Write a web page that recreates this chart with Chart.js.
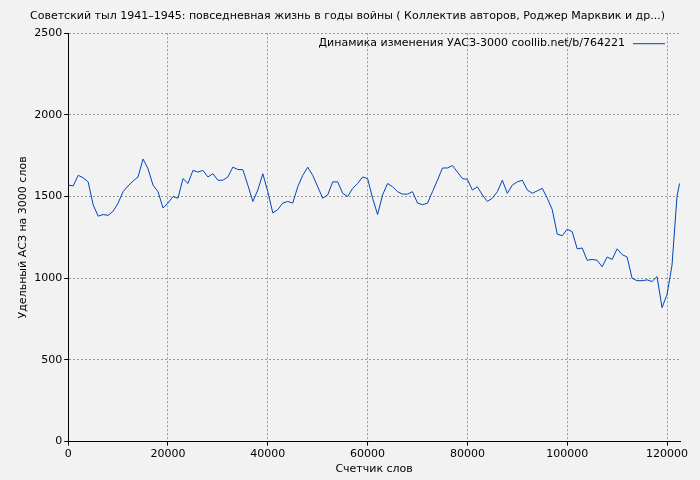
<!DOCTYPE html>
<html>
<head>
<meta charset="utf-8">
<script src="https://cdn.jsdelivr.net/npm/chart.js@4"></script>
<style>
  body { margin: 0; background: #f2f2f2; }
  #wrap { width: 700px; height: 480px; }
</style>
</head>
<body>
<div id="wrap"><canvas id="chart"></canvas></div>
<script>
const titleText = 'Советский тыл 1941–1945: повседневная жизнь в годы войны ( Коллектив авторов, Роджер Марквик и др...)';
const legendText = 'Динамика изменения УАСЗ-3000 coollib.net/b/764221';
const xTicks = [0, 20000, 40000, 60000, 80000, 100000, 120000];
const words = [0,1000,2000,3000,4000,5000,6000,7000,8000,9000,10000,11000,12000,13000,14000,15000,16000,17000,18000,19000,
  20000,21000,22000,23000,24000,25000,26000,27000,28000,29000,30000,31000,32000,33000,34000,35000,36000,37000,38000,39000,
  40000,41000,42000,43000,44000,45000,46000,47000,48000,49000,50000,51000,52000,53000,54000,55000,56000,57000,58000,59000,
  60000,61000,62000,63000,64000,65000,66000,67000,68000,69000,70000,71000,72000,73000,74000,75000,76000,77000,78000,79000,
  80000,81000,82000,83000,84000,85000,86000,87000,88000,89000,90000,91000,92000,93000,94000,95000,96000,97000,98000,99000,
  100000,101000,102000,103000,104000,105000,106000,107000,108000,109000,110000,111000,112000,113000,114000,115000,116000,117000,118000,119000,
  120000,121000,122000,122500];
const values = [1570,1565,1630,1615,1590,1450,1380,1390,1385,1410,1460,1530,1565,1595,1620,1730,1670,1570,1530,1430,
  1460,1500,1490,1610,1580,1660,1650,1660,1620,1640,1600,1600,1620,1680,1665,1665,1570,1470,1540,1640,
  1530,1400,1420,1460,1470,1460,1560,1630,1680,1630,1560,1490,1510,1590,1590,1520,1500,1550,1580,1620,
  1610,1490,1390,1510,1580,1560,1530,1515,1515,1530,1460,1450,1460,1530,1600,1675,1675,1690,1650,1610,
  1605,1540,1560,1510,1470,1490,1530,1600,1520,1570,1590,1600,1540,1520,1535,1550,1490,1420,1270,1260,
  1300,1285,1180,1185,1110,1115,1110,1070,1130,1115,1180,1145,1130,1000,985,985,990,980,1010,820,
  900,1080,1500,1580];

const legendPlugin = {
  id: 'rightLegend',
  afterDraw(chart) {
    const { ctx, chartArea } = chart;
    ctx.save();
    ctx.font = '11px "DejaVu Sans"';
    ctx.fillStyle = '#000';
    ctx.textAlign = 'right';
    ctx.textBaseline = 'middle';
    const y = chartArea.top + 10;
    const lineEnd = chartArea.right - 15;
    const lineStart = lineEnd - 32;
    ctx.fillText(legendText, lineStart - 8, y);
    ctx.strokeStyle = '#0044bb';
    ctx.lineWidth = 1;
    ctx.beginPath();
    ctx.moveTo(lineStart, y + 0.5);
    ctx.lineTo(lineEnd, y + 0.5);
    ctx.stroke();
    ctx.restore();
  }
};

const font = { family: 'DejaVu Sans', size: 11 };

new Chart(document.getElementById('chart'), {
  type: 'line',
  data: {
    datasets: [{
      data: words.map((w, i) => ({ x: w, y: values[i] })),
      borderColor: '#0044bb',
      borderWidth: 1,
      pointRadius: 0,
      tension: 0
    }]
  },
  options: {
    responsive: true,
    maintainAspectRatio: false,
    animation: false,
    layout: { padding: { left: 15, right: 20, bottom: 4 } },
    plugins: {
      legend: { display: false },
      tooltip: { enabled: false },
      title: {
        display: true,
        text: titleText,
        color: '#000',
        font: { family: 'DejaVu Sans', size: 11, weight: 'normal' },
        padding: { top: 10, bottom: 10 }
      }
    },
    scales: {
      x: {
        type: 'linear',
        min: 0,
        max: 122600,
        afterBuildTicks: axis => { axis.ticks = xTicks.map(v => ({ value: v })); },
        title: { display: true, text: 'Счетчик слов', color: '#000', font, padding: 0 },
        ticks: { color: '#000', font, maxRotation: 0, padding: 2, callback: v => String(v) },
        grid: { color: '#999', tickColor: '#000', tickLength: 4 },
        border: { color: '#000', width: 1, dash: [2, 2] }
      },
      y: {
        min: 0,
        max: 2500,
        title: { display: true, text: 'Удельный АСЗ на 3000 слов', color: '#000', font, padding: 2 },
        ticks: { stepSize: 500, color: '#000', font, padding: 2, callback: v => String(v) },
        grid: { color: '#999', tickColor: '#000', tickLength: 4 },
        border: { color: '#000', width: 1, dash: [2, 2] }
      }
    }
  },
  plugins: [legendPlugin]
});
</script>
</body>
</html>
